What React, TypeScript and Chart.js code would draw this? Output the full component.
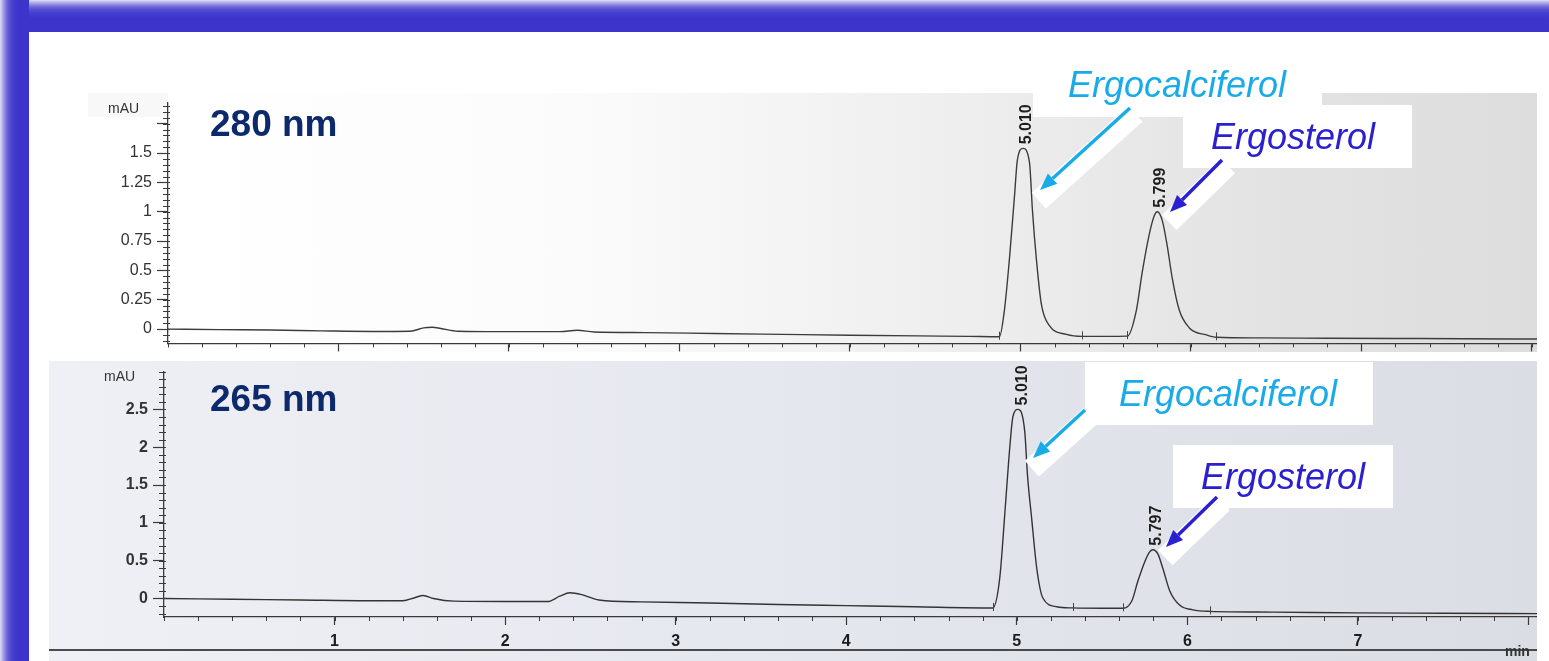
import React, { useEffect, useRef } from 'react';
import { Chart, registerables } from 'chart.js';

Chart.register(...registerables);

// ---------- 280 nm trace (time in min, absorbance in mAU) ----------
const time280 = [
  0.0, 0.3, 0.6, 0.9, 1.2, 1.42, 1.5, 1.55, 1.6, 1.7, 2.0, 2.3, 2.4, 2.5, 2.8, 3.2, 3.6, 4.0, 4.4, 4.7,
  4.877, 4.906, 4.935, 4.965, 4.982, 5.015, 5.053, 5.071, 5.094, 5.123, 5.17, 5.27, 5.364, 5.5,
  5.627, 5.68, 5.715, 5.756, 5.786, 5.803, 5.833, 5.862, 5.891, 5.932, 5.991, 6.091, 6.149,
  6.4, 6.8, 7.2, 7.6, 8.03,
];
const abs280 = [
  0.0, -0.005, -0.008, -0.015, -0.02, -0.018, 0.01, 0.015, 0.005, -0.018, -0.022, -0.022, -0.01, -0.025, -0.03, -0.038, -0.045, -0.052, -0.058, -0.062,
  -0.065, 0.16, 0.59, 1.13, 1.44, 1.54, 1.42, 1.0, 0.59, 0.21, 0.03, -0.045, -0.062, -0.062,
  -0.06, 0.16, 0.49, 0.81, 0.97, 1.0, 0.92, 0.7, 0.43, 0.16, 0.01, -0.05, -0.07,
  -0.075, -0.078, -0.08, -0.082, -0.085,
];

// ---------- 265 nm trace ----------
const time265 = [
  0.0, 0.4, 0.8, 1.2, 1.4, 1.47, 1.52, 1.58, 1.7, 2.0, 2.25, 2.32, 2.38, 2.45, 2.55, 2.8, 3.2, 3.6, 4.0, 4.4,
  4.859, 4.9, 4.93, 4.959, 4.977, 5.006, 5.047, 5.062, 5.088, 5.117, 5.152, 5.235, 5.328, 5.5,
  5.622, 5.675, 5.71, 5.751, 5.78, 5.798, 5.827, 5.856, 5.897, 5.956, 6.032, 6.132,
  6.5, 7.0, 7.5, 8.05,
];
const abs265 = [
  0.0, -0.01, -0.02, -0.03, -0.03, 0.01, 0.04, 0.0, -0.035, -0.04, -0.04, 0.03, 0.075, 0.05, -0.02, -0.045, -0.06, -0.08, -0.095, -0.11,
  -0.125, 0.27, 1.13, 2.0, 2.4, 2.5, 2.2, 1.65, 1.04, 0.4, 0.01, -0.11, -0.125, -0.13,
  -0.13, -0.03, 0.23, 0.49, 0.62, 0.645, 0.59, 0.4, 0.1, -0.09, -0.15, -0.17,
  -0.18, -0.19, -0.195, -0.2,
];

// ---------- peak labels (retention times) ----------
const peakTimes280 = [5.01, 5.799];
const peakHeights280 = [1.54, 1.0];
const peakLabels280 = ['5.010', '5.799'];
const peakTimes265 = [5.01, 5.797];
const peakHeights265 = [2.5, 0.645];
const peakLabels265 = ['5.010', '5.797'];

// integration start / end markers
const markTime280 = [4.877, 5.364, 5.627, 6.149];
const markAbs280 = [-0.065, -0.062, -0.06, -0.07];
const markTime265 = [4.859, 5.328, 5.622, 6.132];
const markAbs265 = [-0.125, -0.125, -0.13, -0.17];

// ---------- axes ----------
const yTicks280 = [0, 0.25, 0.5, 0.75, 1, 1.25, 1.5, 1.75];
const yLabels280 = ['0', '0.25', '0.5', '0.75', '1', '1.25', '1.5', ''];
const yTicks265 = [0, 0.5, 1, 1.5, 2, 2.5];
const yLabels265 = ['0', '0.5', '1', '1.5', '2', '2.5'];
const xTicks = [1, 2, 3, 4, 5, 6, 7, 8];
const xLabels = ['1', '2', '3', '4', '5', '6', '7', ''];

const FONT = '"Liberation Sans", Arial, Helvetica, sans-serif';
const AXIS = '#3a3a3a';

function decorPlugin(p: any) {
  return {
    id: 'decor_' + p.key,
    afterDraw(chart: any) {
      const { ctx, chartArea } = chart;
      const x = chart.scales.x;
      const y = chart.scales.y;
      ctx.save();
      ctx.strokeStyle = AXIS;
      ctx.lineWidth = 1;
      // minor y ticks
      for (let k = Math.ceil(y.min / p.yMinor); k * p.yMinor <= y.max + 1e-9; k++) {
        const py = Math.round(y.getPixelForValue(k * p.yMinor)) + 0.5;
        ctx.beginPath();
        ctx.moveTo(chartArea.left - 5, py);
        ctx.lineTo(chartArea.left + 2, py);
        ctx.stroke();
      }
      // minor x ticks
      for (let k = Math.ceil(x.min / p.xMinor); k * p.xMinor <= x.max + 1e-9; k++) {
        const px = Math.round(x.getPixelForValue(k * p.xMinor)) + 0.5;
        ctx.beginPath();
        ctx.moveTo(px, chartArea.bottom);
        ctx.lineTo(px, chartArea.bottom + 4);
        ctx.stroke();
      }
      // integration markers
      ctx.strokeStyle = '#444';
      p.markTime.forEach((t: number, i: number) => {
        const px = Math.round(x.getPixelForValue(t)) + 0.5;
        const py = y.getPixelForValue(p.markAbs[i]);
        ctx.beginPath();
        ctx.moveTo(px, py - 5);
        ctx.lineTo(px, py + 3);
        ctx.stroke();
      });
      // peak retention-time labels
      ctx.fillStyle = '#1e1e1e';
      ctx.font = `bold 16px ${FONT}`;
      ctx.textAlign = 'left';
      ctx.textBaseline = 'middle';
      p.peakTimes.forEach((t: number, i: number) => {
        const px = x.getPixelForValue(t) + 4;
        const py = y.getPixelForValue(p.peakHeights[i]) - 4;
        ctx.save();
        ctx.translate(px, py);
        ctx.rotate(-Math.PI / 2);
        ctx.fillText(p.peakLabels[i], 0, 0);
        ctx.restore();
      });
      ctx.restore();
    },
  };
}

function makeChart(canvas: HTMLCanvasElement, p: any) {
  return new Chart(canvas, {
    type: 'line',
    data: {
      datasets: [
        {
          data: p.time.map((t: number, i: number) => ({ x: t, y: p.abs[i] })),
          borderColor: p.lineColor,
          borderWidth: 1.4,
          pointRadius: 0,
          fill: false,
          cubicInterpolationMode: 'monotone',
        },
      ],
    },
    options: {
      responsive: false,
      maintainAspectRatio: false,
      animation: false,
      events: [],
      layout: { padding: { top: p.padTop, right: 0, bottom: 0, left: 0 } },
      plugins: { legend: { display: false }, tooltip: { enabled: false }, title: { display: false } },
      scales: {
        x: {
          type: 'linear',
          min: p.xMin,
          max: p.xMax,
          afterBuildTicks: (s: any) => {
            s.ticks = xTicks.map((v) => ({ value: v }));
          },
          afterFit: (s: any) => {
            s.height = p.xHeight;
          },
          ticks: {
            display: p.showX,
            autoSkip: false,
            maxRotation: 0,
            padding: 7,
            color: '#1c1c1c',
            font: { family: FONT, size: 16, weight: 'bold' },
            callback: (v: number) => {
              const i = xTicks.indexOf(v);
              return i >= 0 ? xLabels[i] : '';
            },
          },
          grid: { drawOnChartArea: false, drawTicks: true, tickLength: 8, tickColor: AXIS, tickWidth: 1.2 },
          border: { display: true, color: AXIS, width: 1.3 },
        },
        y: {
          type: 'linear',
          min: p.yMin,
          max: p.yMax,
          afterBuildTicks: (s: any) => {
            s.ticks = p.yTicks.map((v: number) => ({ value: v }));
          },
          afterFit: (s: any) => {
            s.width = p.yWidth;
          },
          ticks: {
            autoSkip: false,
            padding: 5,
            color: '#333',
            font: { family: FONT, size: p.yFontSize, weight: p.yWeight },
            callback: (v: number) => {
              const i = p.yTicks.indexOf(v);
              return i >= 0 ? p.yLabels[i] : '';
            },
          },
          grid: { drawOnChartArea: false, drawTicks: true, tickLength: 11, tickColor: AXIS, tickWidth: 1.2 },
          border: { display: true, color: AXIS, width: 1.3 },
        },
      },
    },
    plugins: [decorPlugin(p)],
  } as any);
}

function Arrow({ x1, y1, x2, y2, color }: any) {
  const dx = x2 - x1;
  const dy = y2 - y1;
  const len = Math.hypot(dx, dy);
  const ux = dx / len;
  const uy = dy / len;
  let px = -uy;
  let py = ux;
  if (px + py < 0) {
    px = -px;
    py = -py;
  }
  const head = 17;
  const hw = 7;
  const bx = x2 - ux * head;
  const by = y2 - uy * head;
  return (
    <g>
      <line
        x1={x1 + px * 8}
        y1={y1 + py * 8}
        x2={x2 + px * 7 + ux * 8}
        y2={y2 + py * 7 + uy * 8}
        stroke="#ffffff"
        strokeWidth={21}
      />
      <line x1={x1} y1={y1} x2={bx} y2={by} stroke={color} strokeWidth={3.5} />
      <polygon points={`${x2},${y2} ${bx + px * hw},${by + py * hw} ${bx - px * hw},${by - py * hw}`} fill={color} />
    </g>
  );
}

const abs = (l: number, t: number, extra: any = {}) => ({ position: 'absolute' as const, left: l, top: t, ...extra });

export default function App() {
  const topRef = useRef<HTMLCanvasElement>(null);
  const botRef = useRef<HTMLCanvasElement>(null);

  useEffect(() => {
    document.body.style.margin = '0';
    document.body.style.background = '#ffffff';
    const c1 = makeChart(topRef.current!, {
      key: 'top',
      time: time280,
      abs: abs280,
      lineColor: '#3c3c3c',
      padTop: 7,
      xMin: 0,
      xMax: 8.03,
      xHeight: 10,
      showX: false,
      yMin: -0.122,
      yMax: 1.93,
      yTicks: yTicks280,
      yLabels: yLabels280,
      yWidth: 108,
      yFontSize: 16,
      yWeight: 'normal',
      yMinor: 0.05,
      xMinor: 0.2,
      markTime: markTime280,
      markAbs: markAbs280,
      peakTimes: peakTimes280,
      peakHeights: peakHeights280,
      peakLabels: peakLabels280,
    });
    const c2 = makeChart(botRef.current!, {
      key: 'bot',
      time: time265,
      abs: abs265,
      lineColor: '#333333',
      padTop: 8,
      xMin: 0,
      xMax: 8.05,
      xHeight: 44,
      showX: true,
      yMin: -0.245,
      yMax: 3.0,
      yTicks: yTicks265,
      yLabels: yLabels265,
      yWidth: 115,
      yFontSize: 16,
      yWeight: 'bold',
      yMinor: 0.1,
      xMinor: 0.2,
      markTime: markTime265,
      markAbs: markAbs265,
      peakTimes: peakTimes265,
      peakHeights: peakHeights265,
      peakLabels: peakLabels265,
    });
    return () => {
      c1.destroy();
      c2.destroy();
    };
  }, []);

  const nmStyle = { fontFamily: FONT, fontWeight: 'bold' as const, fontSize: 37, lineHeight: '37px', color: '#0c2a6b', whiteSpace: 'nowrap' as const };
  const annStyle = (color: string) => ({ fontFamily: FONT, fontStyle: 'italic' as const, fontSize: 36, lineHeight: '36px', color, whiteSpace: 'nowrap' as const });
  const mauStyle = { fontFamily: FONT, fontSize: 14, lineHeight: '14px', color: '#333', whiteSpace: 'nowrap' as const };
  const LIGHT = '#19abe8';
  const DARK = '#2b20cf';
  const band = '#3d35cb';

  return (
    <div style={{ position: 'relative', width: 1549, height: 661, overflow: 'hidden', background: '#ffffff' }}>
      {/* scanned chart backgrounds */}
      <div style={abs(168, 93, { width: 1369, height: 259, background: 'linear-gradient(to right, #ffffff 0%, #fbfbfb 30%, #ededed 60%, #e3e3e3 80%, #dddddd 100%)' })} />
      <div style={abs(88, 93, { width: 80, height: 24, background: '#f8f8f8' })} />
      <div style={abs(49, 361, { width: 1488, height: 300, background: 'linear-gradient(to right, #eef0f5 0%, #e7e9f0 40%, #e1e3eb 70%, #dbdde5 100%)' })} />
      <div style={abs(49, 649, { width: 1488, height: 2, background: '#4a4a4a' })} />

      <canvas ref={topRef} width={1477} height={270} style={abs(60, 88, { width: 1477, height: 270 })} />
      <canvas ref={botRef} width={1488} height={304} style={abs(49, 357, { width: 1488, height: 304 })} />

      {/* axis unit labels */}
      <div style={abs(108, 101, mauStyle)}>mAU</div>
      <div style={abs(104, 369, mauStyle)}>mAU</div>
      <div style={abs(1505, 644, { ...mauStyle, fontWeight: 'bold', fontSize: 14 })}>min</div>

      {/* wavelength labels */}
      <div style={abs(210, 105, nmStyle)}>280 nm</div>
      <div style={abs(210, 380, nmStyle)}>265 nm</div>

      {/* annotation boxes */}
      <div style={abs(1033, 60, { width: 289, height: 57, background: '#ffffff' })} />
      <div style={abs(1183, 105, { width: 229, height: 63, background: '#ffffff' })} />
      <div style={abs(1085, 362, { width: 288, height: 63, background: '#ffffff' })} />
      <div style={abs(1173, 445, { width: 220, height: 63, background: '#ffffff' })} />

      <svg width={1549} height={661} style={abs(0, 0, { pointerEvents: 'none' })}>
        <Arrow x1={1130} y1={108} x2={1040} y2={190} color={LIGHT} />
        <Arrow x1={1222} y1={160} x2={1170} y2={212} color={DARK} />
        <Arrow x1={1085} y1={410} x2={1033} y2={458} color={LIGHT} />
        <Arrow x1={1217} y1={497} x2={1166} y2={547} color={DARK} />
      </svg>

      <div style={abs(1068, 67, annStyle(LIGHT))}>Ergocalciferol</div>
      <div style={abs(1211, 119, annStyle(DARK))}>Ergosterol</div>
      <div style={abs(1119, 376, annStyle(LIGHT))}>Ergocalciferol</div>
      <div style={abs(1201, 459, annStyle(DARK))}>Ergosterol</div>

      {/* blue frame */}
      <div style={abs(0, 0, { width: 1549, height: 32, background: `linear-gradient(to bottom, #dedef5 0px, #aaa6e8 3px, #7a74dc 6px, #5a52d3 9px, #453dce 13px, ${band} 18px, ${band} 32px)` })} />
      <div style={abs(0, 0, { width: 29, height: 661, background: `linear-gradient(to right, #dedef5 0px, #aaa6e8 3px, #7a74dc 6px, #5a52d3 9px, #453dce 13px, ${band} 18px, ${band} 29px)` })} />
    </div>
  );
}
